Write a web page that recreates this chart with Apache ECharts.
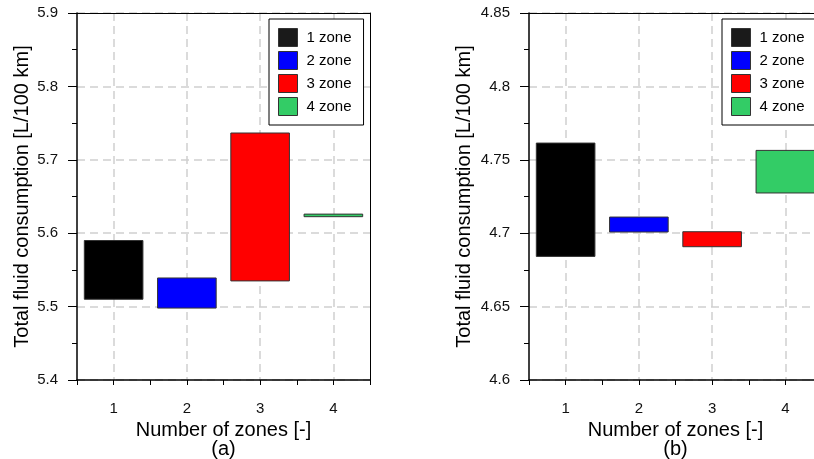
<!DOCTYPE html>
<html>
<head>
<meta charset="utf-8">
<script src="https://cdn.jsdelivr.net/npm/echarts@6/dist/echarts.min.js"></script>
<style>
  html, body { margin: 0; padding: 0; background: #ffffff; }
  #chart { width: 814px; height: 459px; }
</style>
</head>
<body>
<div id="chart"></div>
<script>
// Number of zones on the x axis
const categories = ['1', '2', '3', '4'];
const zoneNames = ['1 zone', '2 zone', '3 zone', '4 zone'];
const zoneColors = ['#000000', '#0000ff', '#ff0000', '#33cc66'];
const legendColors = ['#1a1a1a', '#0000ff', '#ff0000', '#33cc66'];

// Panel (a): lower / upper total fluid consumption [L/100 km]
const lowA  = [5.510, 5.498, 5.535, 5.6225];
const highA = [5.590, 5.539, 5.7365, 5.626];

// Panel (b): lower / upper total fluid consumption [L/100 km]
const lowB  = [4.6842, 4.7008, 4.6908, 4.7274];
const highB = [4.7614, 4.7110, 4.7010, 4.7564];

// Y axis scales
const yRangeA = [5.4, 5.9];
const yStepA = 0.1;
const yRangeB = [4.6, 4.85];
const yStepB = 0.05;

const panelLabels = ['(a)', '(b)'];

const FONT = '"Liberation Sans", Arial, Helvetica, sans-serif';
const dashed = { color: '#cfcfcf', width: 1.5, type: [8, 5] };

function renderRange(params, api) {
  const x = api.value(0);
  const lo = api.value(1);
  const hi = api.value(2);
  const top = api.coord([x, hi]);
  const bottom = api.coord([x, lo]);
  const w = api.size([1, 0])[0] * 0.8;
  return {
    type: 'rect',
    shape: { x: top[0] - w / 2, y: top[1], width: w, height: Math.max(bottom[1] - top[1], 1) },
    style: { fill: api.visual('color'), stroke: '#333333', lineWidth: 1 }
  };
}

const grids = [
  { left: 77, top: 13, width: 293, height: 367, outerBoundsMode: 'none', containLabel: false },
  { left: 529, top: 13, width: 293, height: 367, outerBoundsMode: 'none', containLabel: false }
];

function xAxes(gi) {
  return [
    {
      gridIndex: gi, type: 'category', data: categories, position: 'bottom',
      boundaryGap: true,
      axisLine: { show: true, lineStyle: { color: '#000', width: 1.5 } },
      axisTick: { show: true, length: 5, lineStyle: { color: '#000', width: 1 } },
      axisLabel: { show: true, margin: 21, fontSize: 15, color: '#111', fontFamily: FONT },
      splitLine: { show: false },
      name: 'Number of zones [-]\n' + panelLabels[gi],
      nameLocation: 'middle', nameGap: 37,
      nameTextStyle: { fontSize: 20, lineHeight: 19, color: '#000', fontFamily: FONT }
    },
    {
      gridIndex: gi, type: 'category', data: categories, position: 'bottom',
      boundaryGap: true,
      axisLine: { show: false },
      axisTick: { show: true, alignWithLabel: true, length: 5, lineStyle: { color: '#000', width: 1 } },
      axisLabel: { show: false },
      splitLine: { show: true, alignWithLabel: true, lineStyle: dashed }
    }
  ];
}

// plain frame line along the top of a panel
function topFrame(gi) {
  return {
    gridIndex: gi, type: 'category', data: categories, position: 'top',
    axisLine: { show: true, lineStyle: { color: '#000', width: 1 } },
    axisTick: { show: false }, axisLabel: { show: false }, splitLine: { show: false }
  };
}

function yAxis(gi, range, step, margin, gap) {
  return {
    gridIndex: gi, type: 'value', min: range[0], max: range[1], interval: step,
    axisLine: { show: true, lineStyle: { color: '#000', width: 1.5 } },
    axisTick: { show: true, length: 9, lineStyle: { color: '#000', width: 1 } },
    minorTick: { show: true, splitNumber: 2, length: 5, lineStyle: { color: '#000', width: 1 } },
    axisLabel: { margin: margin, fontSize: 15, color: '#111', fontFamily: FONT,
      formatter: v => String(Math.round(v * 100) / 100) },
    splitLine: { show: true, lineStyle: dashed },
    name: 'Total fluid consumption [L/100 km]',
    nameLocation: 'middle', nameGap: gap,
    nameTextStyle: { fontSize: 20, color: '#000', fontFamily: FONT }
  };
}

// plain frame line along the right side of a panel
function rightFrame(gi, range) {
  return {
    gridIndex: gi, type: 'value', min: range[0], max: range[1], position: 'right',
    axisLine: { show: true, lineStyle: { color: '#000', width: 1 } },
    axisTick: { show: false }, axisLabel: { show: false }, splitLine: { show: false }
  };
}

function seriesFor(gi, low, high) {
  return zoneNames.map((name, i) => ({
    name: name,
    type: 'custom',
    xAxisIndex: gi * 2,
    yAxisIndex: gi,
    renderItem: renderRange,
    itemStyle: { color: zoneColors[i] },
    encode: { x: 0, y: [1, 2] },
    data: [[i, low[i], high[i]]],
    clip: false,
    z: 5
  }));
}

function legendAt(left) {
  return {
    orient: 'vertical', left: left, top: 19,
    backgroundColor: '#ffffff', borderColor: '#000', borderWidth: 1,
    padding: [9, 12, 9, 9], itemGap: 4, itemWidth: 19, itemHeight: 18,
    icon: 'rect',
    itemStyle: { borderColor: '#333', borderWidth: 1 },
    textStyle: { fontSize: 15, color: '#000', fontFamily: FONT, padding: [0, 0, 0, 4] },
    data: zoneNames.map((n, i) => ({ name: n, itemStyle: { color: legendColors[i] } })),
    selectedMode: false
  };
}

const chart = echarts.init(document.getElementById('chart'), null, { renderer: 'canvas' });
chart.setOption({
  animation: false,
  backgroundColor: '#ffffff',
  grid: grids,
  xAxis: xAxes(0).concat(xAxes(1), [topFrame(0), topFrame(1)]),
  yAxis: [yAxis(0, yRangeA, yStepA, 19, 45), yAxis(1, yRangeB, yStepB, 19, 55),
          rightFrame(0, yRangeA), rightFrame(1, yRangeB)],
  legend: [legendAt(269), legendAt(722)],
  series: seriesFor(0, lowA, highA).concat(seriesFor(1, lowB, highB))
});
</script>
</body>
</html>
